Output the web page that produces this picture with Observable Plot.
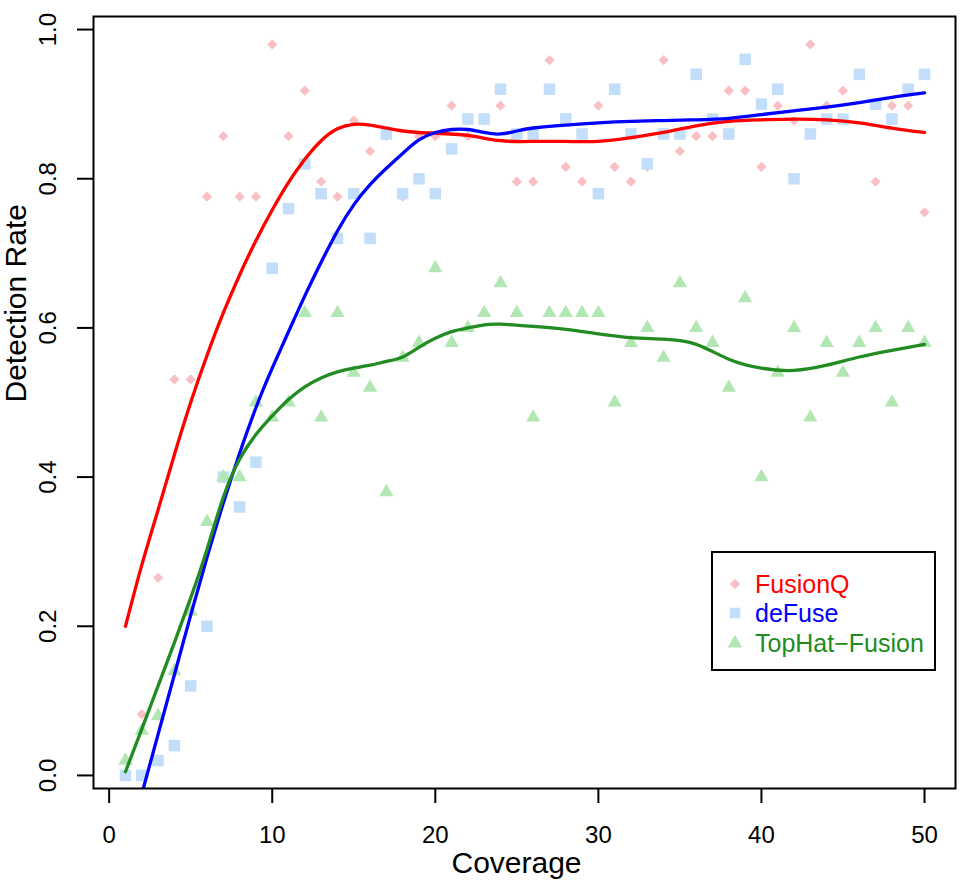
<!DOCTYPE html>
<html><head><meta charset="utf-8">
<script src="https://cdn.jsdelivr.net/npm/d3@7"></script>
<script src="https://cdn.jsdelivr.net/npm/@observablehq/plot@0.6"></script>
<style>
body{margin:0;background:#fff;}
#wrap{position:relative;width:980px;height:886px;font-family:"Liberation Sans",Arial,Helvetica,sans-serif;}
#legend{position:absolute;left:711px;top:551px;width:225px;height:120px;border:2px solid #000;box-sizing:border-box;background:#fff;}
.row{position:absolute;left:0;height:30px;width:220px;font-size:25px;line-height:30px;}
.row svg{position:absolute;left:12px;top:5px;}
.row span{position:absolute;left:42px;top:0;}
</style></head><body><div id="wrap"></div>
<script>
// Coverage levels (x)
const coverage = [1,2,3,4,5,6,7,8,9,10,11,12,13,14,15,16,17,18,19,20,21,22,23,24,25,26,27,28,29,30,31,32,33,34,35,36,37,38,39,40,41,42,43,44,45,46,47,48,49,50];
// Detection rates (points)
const fusionQ = [0,0.082,0.265,0.531,0.531,0.776,0.857,0.776,0.776,0.980,0.857,0.918,0.796,0.776,0.878,0.837,0.857,0.776,0.857,0.857,0.898,0.857,0.878,0.898,0.796,0.796,0.959,0.816,0.796,0.898,0.816,0.796,0.816,0.959,0.837,0.857,0.857,0.918,0.918,0.816,0.898,0.878,0.980,0.898,0.918,0.939,0.796,0.898,0.898,0.755];
const deFuse = [0,0,0.02,0.04,0.12,0.20,0.40,0.36,0.42,0.68,0.76,0.82,0.78,0.72,0.78,0.72,0.86,0.78,0.80,0.78,0.84,0.88,0.88,0.92,0.86,0.86,0.92,0.88,0.86,0.78,0.92,0.86,0.82,0.86,0.86,0.94,0.88,0.86,0.96,0.90,0.92,0.80,0.86,0.88,0.88,0.94,0.90,0.88,0.92,0.94];
const topHat = [0.02,0.06,0.08,0.14,0.22,0.34,0.40,0.40,0.50,0.48,0.50,0.62,0.48,0.62,0.54,0.52,0.38,0.56,0.58,0.68,0.58,0.60,0.62,0.66,0.62,0.48,0.62,0.62,0.62,0.62,0.50,0.58,0.60,0.56,0.66,0.60,0.58,0.52,0.64,0.40,0.54,0.60,0.48,0.58,0.54,0.58,0.60,0.50,0.60,0.58];
// Smoothed curves
const fitXFusionQ = [1,2,3,4,5,6,7,8,9,10,11,12,13,14,15,16,17,18,19,20,22,24,26,28,30,32,34,36,38,40,42,44,46,48,50];
const fitFusionQ = [0.200,0.282,0.356,0.430,0.500,0.563,0.620,0.671,0.717,0.758,0.795,0.826,0.851,0.867,0.873,0.872,0.868,0.864,0.862,0.861,0.858,0.851,0.850,0.850,0.850,0.855,0.862,0.871,0.877,0.879,0.880,0.879,0.875,0.868,0.862];
const fitXDeFuse = [2,3,4,5,6,7,8,9,10,11,12,13,14,15,16,17,18,19,20,21,22,23,24,25,26,28,30,32,34,36,38,40,42,44,46,48,50];
const fitDeFuse = [-0.025,0.055,0.135,0.215,0.292,0.365,0.432,0.493,0.546,0.595,0.643,0.688,0.730,0.765,0.792,0.814,0.834,0.852,0.862,0.866,0.866,0.862,0.860,0.864,0.868,0.872,0.875,0.877,0.878,0.879,0.881,0.886,0.891,0.896,0.902,0.909,0.915];
const fitXTopHat = [1,2,3,4,5,6,7,8,9,10,11,12,13,14,15,16,17,18,19,20,21,22,23,24,26,28,30,32,34,36,38,40,42,44,46,48,50];
const fitTopHat = [0.005,0.062,0.120,0.178,0.238,0.303,0.373,0.424,0.457,0.482,0.504,0.521,0.533,0.541,0.546,0.550,0.555,0.561,0.574,0.586,0.595,0.600,0.604,0.605,0.602,0.598,0.592,0.587,0.585,0.578,0.558,0.546,0.543,0.550,0.561,0.570,0.578];

const xTicks = [0,10,20,30,40,50];
const yTicks = [0,0.2,0.4,0.6,0.8,1.0];
const seriesNames = ["FusionQ","deFuse","TopHat\u2212Fusion"];
const pointColors = ["#f9c0c4","#c2defa","#b2e6b2"];
const lineColors = ["#ff0000","#0000ff","#228B22"];

const rows = (xs, ys) => xs.map((x, i) => ({x, y: ys[i]}));

const plot = Plot.plot({
  width: 980, height: 886,
  marginLeft: 93, marginRight: 25, marginTop: 16, marginBottom: 98,
  style: {fontFamily: "'Liberation Sans', Arial, Helvetica, sans-serif", background: "white", color: "black"},
  x: {domain: [-0.96, 51.9]},
  y: {domain: [-0.0175, 1.0175]},
  marks: [
    Plot.dot(rows(coverage, fusionQ), {x: "x", y: "y", symbol: "diamond2", r: 4.6, fill: pointColors[0], stroke: "none"}),
    Plot.dot(rows(coverage, deFuse), {x: "x", y: "y", symbol: "square", r: 6.5, fill: pointColors[1], stroke: "none"}),
    Plot.dot(rows(coverage, topHat), {x: "x", y: "y", symbol: "triangle", r: 5.3, fill: pointColors[2], stroke: "none"}),
    Plot.line(rows(fitXFusionQ, fitFusionQ), {x: "x", y: "y", stroke: lineColors[0], strokeWidth: 3.3, curve: "natural", clip: true}),
    Plot.line(rows(fitXDeFuse, fitDeFuse), {x: "x", y: "y", stroke: lineColors[1], strokeWidth: 3.3, curve: "natural", clip: true}),
    Plot.line(rows(fitXTopHat, fitTopHat), {x: "x", y: "y", stroke: lineColors[2], strokeWidth: 3.3, curve: "natural", clip: true}),
    Plot.frame({stroke: "black", strokeWidth: 2}),
    Plot.axisX({ticks: xTicks, tickSize: 15, tickPadding: 22, fontSize: 24, label: null, strokeWidth: 2}),
    Plot.axisY({ticks: yTicks, tickSize: 16, tickPadding: 22, tickRotate: -90, tickFormat: d3.format(".1f"), fontSize: 24, label: null, strokeWidth: 2}),
    Plot.text(["Coverage"], {text: d => d, frameAnchor: "bottom", dy: 84, dx: -8, lineAnchor: "bottom", fontSize: 30}),
    Plot.text(["Detection Rate"], {text: d => d, frameAnchor: "left", rotate: -90, dx: -89, lineAnchor: "top", fontSize: 30})
  ]
});
const wrap = document.getElementById("wrap");
wrap.appendChild(plot);

// Legend
const legend = document.createElement("div");
legend.id = "legend";
const shapes = [
  '<svg width="20" height="20" viewBox="-10 -10 20 20"><path d="M0,-5.2L5.2,0L0,5.2L-5.2,0Z" fill="' + pointColors[0] + '"/></svg>',
  '<svg width="20" height="20" viewBox="-10 -10 20 20"><rect x="-5.3" y="-5.3" width="10.6" height="10.6" fill="' + pointColors[1] + '"/></svg>',
  '<svg width="20" height="20" viewBox="-10 -10 20 20"><path d="M0,-8L7.3,4.6L-7.3,4.6Z" fill="' + pointColors[2] + '"/></svg>'
];
const rowTops = [16, 45, 75];
seriesNames.forEach((name, i) => {
  const row = document.createElement("div");
  row.className = "row";
  row.style.top = rowTops[i] + "px";
  row.innerHTML = shapes[i] + '<span style="color:' + lineColors[i] + '">' + name + '</span>';
  legend.appendChild(row);
});
wrap.appendChild(legend);
</script>
</body></html>
